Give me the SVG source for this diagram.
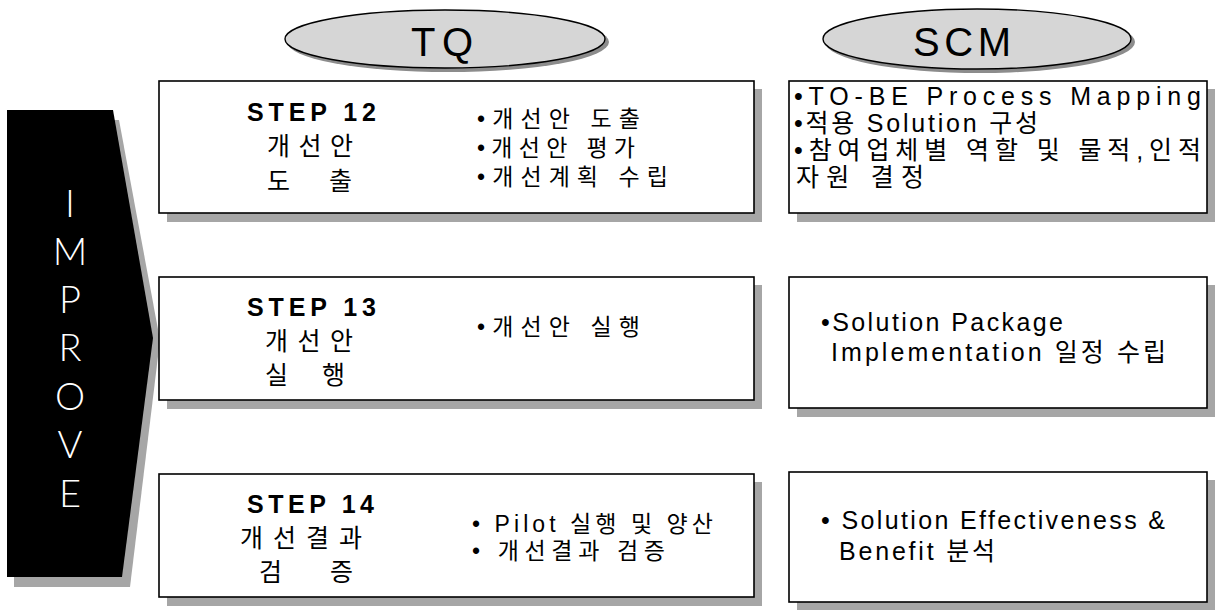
<svg xmlns="http://www.w3.org/2000/svg" width="1219" height="610" viewBox="0 0 1219 610">
<style>
  .box{fill:#fff;stroke:#000;stroke-width:1.6}
  .shadow{fill:#a6a6a6}
  .ell{fill:#d6d6d6;stroke:#000;stroke-width:1.4}
  .ellsh{fill:#8c8c8c}
  .step{font-family:"Liberation Sans",Arial,sans-serif;font-weight:bold;font-size:25px;fill:#000}
  .kr{font-family:"Liberation Sans","Noto Sans CJK KR",sans-serif;font-size:23px;fill:#000}
  .kr2{font-family:"Liberation Sans","Noto Sans CJK KR",sans-serif;font-size:25px;fill:#000}
  .scm{font-family:"Liberation Sans","Noto Sans CJK KR",sans-serif;font-size:25px;fill:#000}
  .title{font-family:"Liberation Sans",Arial,sans-serif;font-size:40px;fill:#000}
  .imp{font-family:Lato,"Liberation Sans",sans-serif;font-weight:300;font-size:38px;fill:#fff;text-anchor:middle}
</style>
<rect width="1219" height="610" fill="#fff"/>

<g id="improve-arrow">
  <polygon class="shadow" points="14,120 119,120 160,340 130,587 14,587"/>
  <polygon fill="#000" points="7,110 113,110 153,338 122,577 7,577"/>
  <text class="imp" x="70" y="217">I</text>
  <text class="imp" x="70" y="265">M</text>
  <text class="imp" x="70" y="313">P</text>
  <text class="imp" x="70" y="361">R</text>
  <text class="imp" x="70" y="410">O</text>
  <text class="imp" x="70" y="458">V</text>
  <text class="imp" x="70" y="507">E</text>
</g>

<g id="header-tq">
  <ellipse class="ellsh" cx="448" cy="42" rx="161" ry="30"/>
  <ellipse class="ell" cx="445" cy="39" rx="160" ry="29"/>
  <text class="title" x="442" y="56" text-anchor="middle" textLength="62" lengthAdjust="spacing">TQ</text>
</g>

<g id="header-scm">
  <ellipse class="ellsh" cx="980" cy="42" rx="155" ry="31"/>
  <ellipse class="ell" cx="977" cy="39" rx="154" ry="30"/>
  <text class="title" x="962" y="56" text-anchor="middle" textLength="98" lengthAdjust="spacing">SCM</text>
</g>

<g id="tq-step12">
  <rect class="shadow" x="167" y="89" width="595" height="133"/>
  <rect class="box" x="159" y="81" width="595" height="132"/>
  <text class="step" x="247" y="121" textLength="129" lengthAdjust="spacing">STEP 12</text>
  <text class="kr2" x="267" y="155" textLength="86" lengthAdjust="spacing">개선안</text>
  <text class="kr2" y="190"><tspan x="267">도</tspan><tspan x="329">출</tspan></text>
  <text class="kr" x="477" y="127" textLength="163" lengthAdjust="spacing">•개선안 도출</text>
  <text class="kr" x="477" y="156" textLength="158" lengthAdjust="spacing">•개선안 평가</text>
  <text class="kr" x="477" y="185" textLength="191" lengthAdjust="spacing">•개선계획 수립</text>
</g>

<g id="scm-step12">
  <rect class="shadow" x="797" y="89" width="418" height="133"/>
  <rect class="box" x="789" y="81" width="418" height="132"/>
  <text class="scm" x="794" y="105" textLength="407" lengthAdjust="spacing">•TO-BE Process Mapping</text>
  <text class="scm" x="794" y="132" textLength="244" lengthAdjust="spacing">•적용 Solution 구성</text>
  <text class="scm" x="794" y="159" textLength="407" lengthAdjust="spacing">•참여업체별 역할 및 물적,인적</text>
  <text class="scm" x="796" y="186" textLength="128" lengthAdjust="spacing">자원 결정</text>
</g>

<g id="tq-step13">
  <rect class="shadow" x="167" y="285" width="595" height="124"/>
  <rect class="box" x="159" y="277" width="595" height="123"/>
  <text class="step" x="247" y="316" textLength="129" lengthAdjust="spacing">STEP 13</text>
  <text class="kr2" x="265" y="350" textLength="88" lengthAdjust="spacing">개선안</text>
  <text class="kr2" y="384"><tspan x="265">실</tspan><tspan x="322">행</tspan></text>
  <text class="kr" x="477" y="335" textLength="163" lengthAdjust="spacing">•개선안 실행</text>
</g>

<g id="scm-step13">
  <rect class="shadow" x="797" y="285" width="418" height="132"/>
  <rect class="box" x="789" y="277" width="418" height="131"/>
  <text class="scm" x="821" y="331" textLength="242" lengthAdjust="spacing">•Solution Package</text>
  <text class="scm" x="831" y="361" textLength="335" lengthAdjust="spacing">Implementation 일정 수립</text>
</g>

<g id="tq-step14">
  <rect class="shadow" x="167" y="482" width="595" height="124"/>
  <rect class="box" x="159" y="474" width="595" height="123"/>
  <text class="step" x="247" y="513" textLength="127" lengthAdjust="spacing">STEP 14</text>
  <text class="kr2" x="240" y="547" textLength="122" lengthAdjust="spacing">개선결과</text>
  <text class="kr2" y="581"><tspan x="259">검</tspan><tspan x="330">증</tspan></text>
  <text class="kr" x="472" y="532" textLength="241" lengthAdjust="spacing">• Pilot 실행 및 양산</text>
  <text class="kr" x="472" y="559" textLength="193" lengthAdjust="spacing">• 개선결과 검증</text>
</g>

<g id="scm-step14">
  <rect class="shadow" x="797" y="480" width="418" height="131"/>
  <rect class="box" x="789" y="472" width="418" height="130"/>
  <text class="scm" x="821" y="529" textLength="344" lengthAdjust="spacing">• Solution Effectiveness &amp;</text>
  <text class="scm" x="839" y="560" textLength="156" lengthAdjust="spacing">Benefit 분석</text>
</g>

<g id="connectors"/>
</svg>
